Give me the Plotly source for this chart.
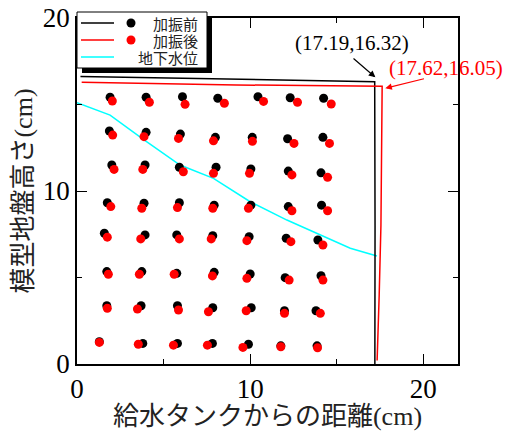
import plotly.graph_objects as go

# ---------------- data ----------------
# 加振前 (before shaking) marker positions, row by row (top -> bottom)
before_x = [1.91, 3.99, 6.09, 8.13, 10.45, 12.31, 14.24,
            1.87, 3.99, 5.97, 7.99, 10.12, 12.16, 14.20,
            2.01, 3.93, 5.91, 8.03, 10.04, 12.20, 14.09,
            1.75, 3.87, 5.91, 7.92, 10.04, 12.20, 14.12,
            1.58, 3.93, 5.76, 7.84, 9.94, 12.08, 13.91,
            1.72, 3.74, 5.76, 7.92, 10.00, 12.02, 14.09,
            1.72, 3.70, 5.80, 7.84, 10.06, 11.98, 13.80,
            1.29, 3.80, 5.80, 7.82, 9.90, 11.77, 13.86]
before_y = [15.42, 15.42, 15.45, 15.36, 15.45, 15.39, 15.36,
            13.47, 13.39, 13.29, 13.10, 13.10, 13.02, 13.10,
            11.50, 11.50, 11.37, 11.37, 11.27, 11.15, 11.05,
            9.32, 9.29, 9.32, 9.18, 9.18, 9.10, 9.18,
            7.56, 7.46, 7.46, 7.42, 7.36, 7.27, 7.17,
            5.34, 5.34, 5.24, 5.30, 5.20, 4.99, 5.10,
            3.37, 3.37, 3.37, 3.25, 3.25, 3.08, 3.08,
            1.29, 1.19, 1.19, 1.19, 1.14, 1.05, 1.05]

# 加振後 (after shaking) marker positions
after_x = [2.04, 4.18, 6.24, 8.51, 10.77, 12.73, 14.68,
           2.06, 3.87, 5.86, 7.88, 10.13, 12.53, 14.58,
           2.14, 3.80, 6.14, 7.88, 9.96, 12.41, 14.47,
           1.95, 3.74, 5.80, 7.84, 9.90, 12.41, 14.47,
           1.75, 3.68, 5.91, 7.75, 9.81, 12.35, 14.20,
           1.81, 3.60, 5.61, 7.82, 9.81, 12.25, 14.20,
           1.75, 3.49, 5.86, 7.59, 9.77, 11.98, 14.05,
           1.29, 3.54, 5.57, 7.53, 9.58, 11.77, 13.89]
after_y = [15.20, 15.13, 15.01, 15.07, 15.18, 15.13, 15.03,
           13.23, 13.14, 13.04, 12.90, 12.87, 12.75, 12.75,
           11.25, 11.25, 11.11, 11.02, 11.02, 10.93, 10.79,
           9.10, 9.00, 9.04, 9.00, 9.00, 8.86, 8.86,
           7.33, 7.23, 7.23, 7.23, 7.13, 7.07, 6.88,
           5.19, 5.19, 5.19, 5.09, 4.95, 4.85, 4.85,
           3.22, 3.18, 3.12, 3.02, 3.08, 2.93, 2.93,
           1.25, 1.14, 1.09, 1.09, 0.96, 1.00, 0.94]

# ground surface outline before shaking (black)
surf_before_x = [0.20, 4.0, 8.0, 12.0, 17.19, 17.21, 17.20]
surf_before_y = [16.62, 16.55, 16.45, 16.38, 16.32, 8.0, 0.0]

# ground surface outline after shaking (red)
surf_after_x = [0.27, 9.2, 17.62, 17.60, 17.55, 17.45, 17.33]
surf_after_y = [16.28, 16.13, 16.05, 12.0, 8.0, 4.0, 0.2]

# groundwater level (cyan)
gw_x = [0.0, 1.91, 3.83, 5.95, 7.88, 10.0, 12.12, 14.05, 15.78, 17.32]
gw_y = [15.10, 14.39, 12.99, 11.50, 10.73, 9.38, 8.32, 7.46, 6.69, 6.24]

# labelled corner points
pt_before = (17.19, 16.32)
pt_after = (17.62, 16.05)

legend_labels = ["加振前", "加振後", "地下水位"]
x_title = "給水タンクからの距離(cm)"
y_title = "模型地盤高さ(cm)"

# ---------------- figure ----------------
SERIF = "Liberation Serif, Noto Sans CJK JP, serif"
CJK = "Noto Sans CJK JP, sans-serif"

fig = go.Figure()
fig.add_trace(go.Scatter(x=gw_x, y=gw_y, mode="lines",
                         line=dict(color="#00FFFF", width=1.5), showlegend=False))
fig.add_trace(go.Scatter(x=surf_before_x, y=surf_before_y, mode="lines",
                         line=dict(color="black", width=1.5), showlegend=False))
fig.add_trace(go.Scatter(x=surf_after_x, y=surf_after_y, mode="lines",
                         line=dict(color="#FF0000", width=1.5), showlegend=False))
fig.add_trace(go.Scatter(x=before_x, y=before_y, mode="markers",
                         marker=dict(color="black", size=9), showlegend=False))
fig.add_trace(go.Scatter(x=after_x, y=after_y, mode="markers",
                         marker=dict(color="#FF0000", size=9), showlegend=False))

axis_common = dict(
    showgrid=False, zeroline=False, showline=True, linecolor="black", linewidth=1.5,
    mirror="allticks", ticks="inside", ticklen=10, tickwidth=1.2, tickcolor="black",
    dtick=10, tick0=0, automargin=False,
    minor=dict(ticks="inside", ticklen=5, tickwidth=1.2, tickcolor="black", dtick=5),
    tickfont=dict(family=SERIF, size=27, color="black"),
)

fig.update_layout(
    width=512, height=431,
    margin=dict(l=77, r=54, t=18, b=67),
    paper_bgcolor="white", plot_bgcolor="white",
    xaxis=dict(range=[0, 22], title=dict(text=x_title, font=dict(family=SERIF, size=26, color="#222222"),
                                         standoff=5), **axis_common),
    yaxis=dict(range=[0, 20], title=dict(text=y_title, font=dict(family=SERIF, size=26, color="#222222"),
                                         standoff=3), **axis_common),
    showlegend=False,
)

# ----- custom legend (box with drop shadow) -----
W, H = 381.0, 346.0
def px(xp):
    return (xp - 77) / W
def py(yp):
    return (364 - yp) / H

shapes = [
    dict(type="rect", xref="paper", yref="paper", x0=px(82), x1=px(212), y0=py(73), y1=py(17),
         fillcolor="black", line=dict(width=0), layer="above"),
    dict(type="rect", xref="paper", yref="paper", x0=px(77), x1=px(207), y0=py(68), y1=py(12),
         fillcolor="white", line=dict(color="black", width=1), layer="above"),
]
row_y = [23, 40, 57]
line_cols = ["black", "#FF0000", "#00FFFF"]
for yy, c in zip(row_y, line_cols):
    shapes.append(dict(type="line", xref="paper", yref="paper", x0=px(81), x1=px(114),
                       y0=py(yy), y1=py(yy), line=dict(color=c, width=1.5), layer="above"))
for yy, c in zip(row_y[:2], line_cols[:2]):
    shapes.append(dict(type="circle", xref="paper", yref="paper",
                       x0=px(131 - 4.5), x1=px(131 + 4.5), y0=py(yy + 4.5), y1=py(yy - 4.5),
                       fillcolor=c, line=dict(color=c, width=0), layer="above"))
fig.update_layout(shapes=shapes)

for yy, lab in zip(row_y, legend_labels):
    fig.add_annotation(xref="paper", yref="paper", x=px(199), y=py(yy), xanchor="right",
                       yanchor="middle", text=lab, showarrow=False, borderpad=0,
                       font=dict(family=CJK, size=15, color="#222222"))

# ----- point labels with arrows -----
fig.add_annotation(x=17.23, y=16.57, ax=15.88, ay=17.73, axref="x", ayref="y",
                   text="", showarrow=True, arrowhead=2, arrowsize=1.1, arrowwidth=1.2,
                   arrowcolor="black")
fig.add_annotation(x=15.87, y=18.53, text="(%.2f,%.2f)" % pt_before, showarrow=False,
                   font=dict(family=SERIF, size=21, color="black"))
fig.add_annotation(x=17.80, y=15.94, ax=20.12, ay=16.51, axref="x", ayref="y",
                   text="", showarrow=True, arrowhead=2, arrowsize=1.1, arrowwidth=1.2,
                   arrowcolor="#FF0000")
fig.add_annotation(x=21.30, y=17.11, text="(%.2f,%.2f)" % pt_after, showarrow=False,
                   font=dict(family=SERIF, size=21, color="#FF0000"))

fig.write_html("out.html", config={"displayModeBar": False},
               post_script="document.body.style.margin='0px';")
